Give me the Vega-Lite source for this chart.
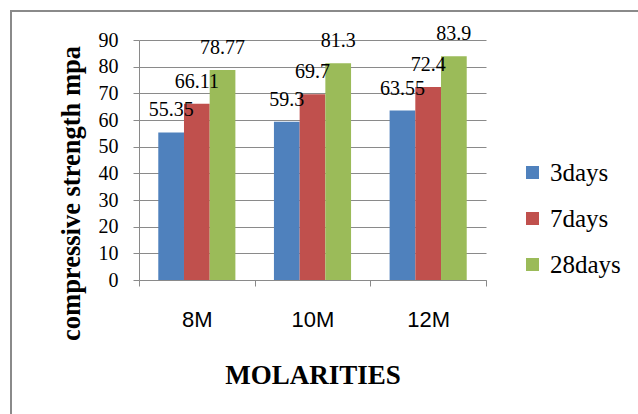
{
  "$schema": "https://vega.github.io/schema/vega-lite/v6.json",
  "width": 632,
  "height": 410,
  "autosize": {"type": "none"},
  "padding": {"left": 11, "top": 11, "right": 0, "bottom": 0},
  "background": "white",
  "config": {
    "view": {"stroke": "#8a8a8a", "strokeWidth": 2},
    "font": "Liberation Serif"
  },
  "data": {
    "values": [
      {"molarity": "8M", "age": "3days", "strength": 55.35},
      {"molarity": "8M", "age": "7days", "strength": 66.11},
      {"molarity": "8M", "age": "28days", "strength": 78.77},
      {"molarity": "10M", "age": "3days", "strength": 59.3},
      {"molarity": "10M", "age": "7days", "strength": 69.7},
      {"molarity": "10M", "age": "28days", "strength": 81.3},
      {"molarity": "12M", "age": "3days", "strength": 63.55},
      {"molarity": "12M", "age": "7days", "strength": 72.4},
      {"molarity": "12M", "age": "28days", "strength": 83.9}
    ]
  },
  "encoding": {
    "x": {
      "field": "molarity",
      "type": "nominal",
      "sort": ["8M", "10M", "12M"],
      "title": "MOLARITIES",
      "scale": {"range": [128, 475], "paddingInner": 0, "paddingOuter": 0},
      "axis": {
        "offset": -141,
        "labelAngle": 0,
        "labelFont": "Liberation Sans",
        "labelFontSize": 22,
        "labelColor": "black",
        "labelPadding": 23,
        "tickBand": "extent",
        "tickSize": 6,
        "tickColor": "#8a8a8a",
        "domainColor": "#8a8a8a",
        "grid": false,
        "titleFont": "Liberation Serif",
        "titleFontSize": 27,
        "titleFontWeight": "bold",
        "titleColor": "black",
        "titlePadding": 32
      }
    },
    "xOffset": {
      "field": "age",
      "type": "nominal",
      "sort": ["3days", "7days", "28days"],
      "scale": {"paddingInner": 0, "paddingOuter": 0.75}
    },
    "y": {
      "field": "strength",
      "type": "quantitative",
      "title": "compressive strength mpa",
      "scale": {"domain": [0, 90], "range": [269, 29], "nice": false, "zero": true},
      "axis": {
        "offset": -128,
        "values": [0, 10, 20, 30, 40, 50, 60, 70, 80, 90],
        "grid": true,
        "gridColor": "#8a8a8a",
        "gridWidth": 1,
        "tickSize": 6,
        "tickColor": "#8a8a8a",
        "domainColor": "#8a8a8a",
        "labelFont": "Liberation Serif",
        "labelFontSize": 20,
        "labelColor": "black",
        "labelPadding": 15,
        "titleFont": "Liberation Serif",
        "titleFontSize": 26.5,
        "titleFontWeight": "bold",
        "titleColor": "black",
        "titlePadding": 13,
        "titleY": 182
      }
    }
  },
  "layer": [
    {
      "mark": {"type": "bar"},
      "encoding": {
        "color": {
          "field": "age",
          "type": "nominal",
          "sort": ["3days", "7days", "28days"],
          "scale": {"domain": ["3days", "7days", "28days"], "range": ["#4F81BD", "#C0504D", "#9BBB59"]},
          "legend": {
            "title": null,
            "orient": "none",
            "legendX": 509,
            "legendY": 149,
            "labelFont": "Liberation Serif",
            "labelFontSize": 25,
            "labelColor": "black",
            "symbolType": "square",
            "symbolSize": 169,
            "symbolStrokeWidth": 0,
            "symbolOpacity": 1,
            "rowPadding": 20,
            "labelOffset": 5,
            "padding": 0
          }
        }
      }
    },
    {
      "mark": {"type": "text", "dy": -16, "baseline": "alphabetic", "fontSize": 20, "font": "Liberation Serif", "color": "black"},
      "encoding": {"text": {"field": "strength", "type": "nominal"}}
    }
  ]
}
